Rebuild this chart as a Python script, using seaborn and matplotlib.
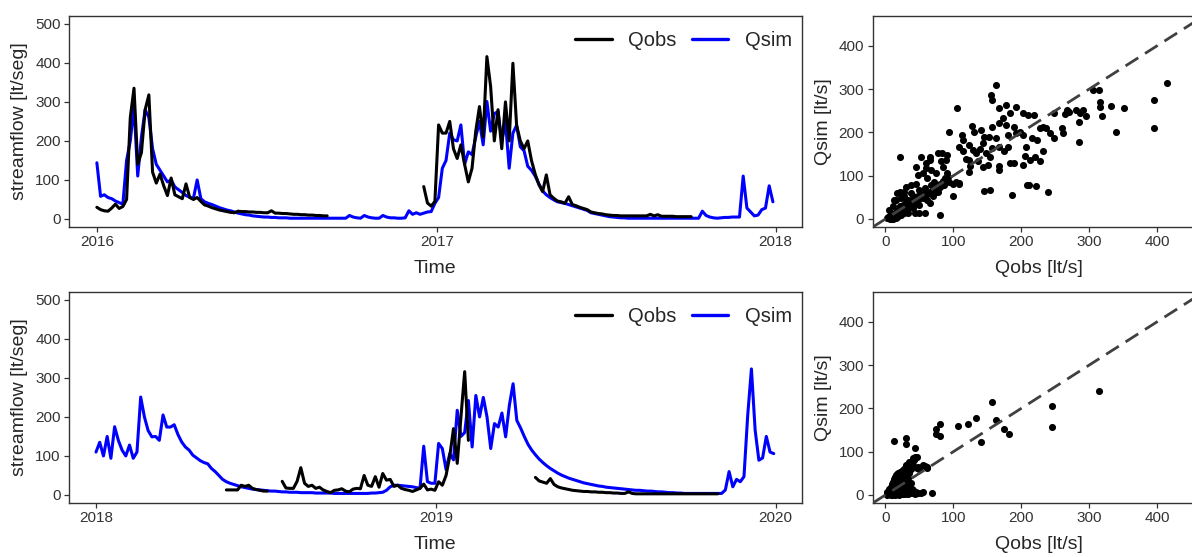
import numpy as np
import pandas as pd
import matplotlib
matplotlib.use("Agg")
import matplotlib.pyplot as plt
import matplotlib.dates as mdates
from matplotlib.lines import Line2D
import seaborn as sns

NaN = np.nan

# Streamflow sampled every 4 days [lt/seg]
qobs_2016_2017 = (
    [30, 24, 21, 20, 28, 38, 27, 32, 50]
    + [260, 335, 140, 170, 280, 318, 120, 92, 115, 85]
    + [60, 105, 62, 57, 52, 90, 55, 50, 55, 45]
    + [36, 33, 29, 26, 23, 21, 19, 17, 16]
    + [20, 19, 19, 18, 18, 17, 17, 16, 16, 21, 15, 15, 14, 14, 13, 12, 12, 11, 11, 10, 10, 9, 9, 8, 8]
    + [NaN] * 25
    + [83, 41, 33, 45]
    + [241, 220, 220, 250, 180, 155, 190, 140, 95, 130, 225, 288, 210, 416, 340, 200, 280, 180, 300, 200,
       399, 240, 200, 180, 200, 150, 115, 88, 70, 113, 62, 53, 46, 44, 40, 57, 37, 34, 30, 27, 24]
    + [18, 16, 14, 13, 11, 10, 9, 9, 8, 8, 8, 8, 8, 8, 8, 8, 12, 8, 11, 7, 7, 7, 7, 6, 6, 6, 6, 6]
    + [NaN] * 22
)
qsim_2016_2017 = (
    [144, 58, 62, 55, 52, 46, 42, 38, 150]
    + [200, 290, 110, 210, 280, 260, 180, 140, 125, 110]
    + [95, 100, 82, 75, 68, 60, 56, 53, 100, 52]
    + [44, 40, 37, 33, 29, 26, 23, 21, 18]
    + [15, 13, 11, 10, 8, 7, 6, 5, 5, 4, 4, 3, 3, 3, 2, 2, 2, 2, 2, 2, 2, 2, 2, 2, 2]
    + [2, 2, 2, 2, 2, 9, 5, 3, 2, 9, 5, 3, 2, 2, 9, 5, 3, 3, 2, 2, 3, 21, 12, 16, 12, 15, 18, 19, 40]
    + [55, 130, 150, 220, 203, 200, 241, 140, 172, 165, 210, 250, 190, 301, 225, 270, 275, 200, 250, 130,
       220, 240, 185, 175, 135, 125, 110, 90, 72, 62, 55, 49, 44, 42, 40, 37, 34, 31, 28, 25, 22]
    + [16, 14, 12, 10, 8, 6, 5, 4, 3, 3]
    + [2] * 20
    + [20, 9, 5, 3, 2, 3, 4, 4, 5, 5, 5, 110, 28, 18, 8, 10, 24, 28, 85, 44]
)
qobs_2018_2019 = (
    [NaN] * 35
    + [13, 13, 13, 13, 25, 22, 25, 17, 14, 12, 10, 10]
    + [NaN] * 3
    + [35, 18, 17, 17, 35, 70, 30, 22, 25, 17, 20, 13, 9, 6, 12, 13, 16, 10, 8]
    + [15, 17, 16, 50, 25, 22, 47, 20, 55, 38, 40, 22, 25, 17, 14, 12, 9, 13, 17, 28, 13, 15, 12, 34]
    + [25, 50, 100, 170, 81, 200, 316, 140]
    + [NaN] * 17
    + [45, 36, 33, 30, 42, 27, 21, 18, 16, 14, 12, 11, 10, 9, 9, 8, 8, 7, 7, 6, 6, 5, 5, 4, 4, 8, 4]
    + [3] * 23
    + [NaN] * 15
)
qsim_2018_2019 = (
    [110, 135, 100, 150, 94, 175, 140, 115, 100, 128, 94, 110]
    + [251, 200, 165, 149, 150, 140, 205, 174, 174, 180, 155]
    + [136, 123, 115, 102, 95, 88, 83, 80, 68, 60, 50, 40]
    + [34, 30, 27, 24, 21, 19, 17, 15, 14, 13, 12, 11, 10, 10, 9, 8]
    + [8, 7, 7, 7, 6, 6, 6, 6, 5, 5, 5, 5, 5, 4, 4, 4, 4, 4]
    + [4, 4, 4, 4, 4, 5, 5, 6, 7, 12, 21, 25, 25, 24, 23, 22, 21, 19, 17, 125, 34, 30, 30, 132]
    + [119, 65, 106, 90, 217, 150, 160, 242, 123, 255, 200, 250, 200, 119, 183, 174, 210, 149, 230, 285, 191]
    + [172, 150, 130, 115, 103, 92, 83, 75, 68, 62, 56, 51, 47, 43, 40, 37, 34, 31, 29, 27,
       25, 23, 22, 20, 19, 18, 17, 16, 15, 14, 13, 12, 12, 11, 10, 10, 9, 8, 8, 7, 6, 6, 5, 5, 4]
    + [4] * 10
    + [13, 60, 21, 40, 34, 47, 204, 323, 166, 89, 95, 150, 110, 106]
)

# Observed vs simulated pairs (Qobs, Qsim) [lt/s]
pairs_2016_2017 = [
    (22, 144), (105, 256), (93, 202), (163, 310), (156, 287), (157, 275), (177, 264), (193, 258),
    (168, 256), (203, 244), (219, 240), (210, 240), (183, 244), (173, 233), (178, 217), (168, 221),
    (157, 213), (141, 206), (145, 190), (131, 202), (127, 215), (113, 194), (115, 183), (108, 167),
    (115, 158), (123, 171), (129, 160), (134, 152), (136, 133), (123, 136), (118, 138), (125, 123),
    (123, 109), (144, 121), (151, 125), (154, 144), (148, 153), (139, 161), (144, 175), (153, 189),
    (163, 187), (167, 167), (157, 163), (175, 156), (181, 167), (181, 194), (189, 213), (193, 198),
    (198, 202), (203, 194), (207, 167), (206, 146), (203, 125), (184, 130), (189, 129), (167, 123),
    (168, 113), (154, 67), (145, 65), (186, 55), (209, 79), (212, 79), (222, 77), (239, 62),
    (213, 136), (227, 133), (232, 158), (221, 144), (216, 187), (223, 183), (227, 210), (232, 213),
    (237, 210), (242, 198), (248, 187), (249, 244), (260, 210), (261, 198), (264, 243), (271, 248),
    (267, 252), (281, 252), (285, 223), (285, 177), (291, 252), (295, 238), (287, 244), (306, 297),
    (315, 297), (316, 271), (316, 258), (319, 237), (333, 261), (351, 256), (340, 202), (396, 275),
    (396, 210), (415, 314),
    (52, 144), (60, 129), (65, 136), (66, 144), (77, 153), (84, 152), (90, 148), (89, 136),
    (82, 133), (85, 121), (91, 106), (90, 90), (75, 106), (67, 113), (60, 117), (55, 106),
    (45, 121), (48, 102), (62, 94), (71, 86), (80, 75), (99, 52), (80, 9), (65, 36),
    (58, 71), (50, 67), (45, 82), (38, 79), (31, 75), (28, 52), (21, 63), (17, 59),
    (13, 44), (11, 29), (8, 13), (6, 5), (18, 13), (26, 32), (33, 44), (40, 52),
    (33, 13), (43, 13), (50, 13), (58, 13), (35, 29), (55, 48), (72, 59), (67, 79),
    (77, 63), (87, 79), (94, 86), (99, 82), (104, 86), (109, 84), (108, 81), (6, 21),
    (3, 2), (11, 5), (16, 2), (21, 29), (16, 44), (23, 48), (31, 40), (38, 59),
    (48, 52), (60, 59), (62, 44), (70, 52), (26, 17), (40, 25), (50, 32), (28, 63), (45, 36),
    (5, 3), (8, 6), (10, 8), (12, 12), (14, 10), (15, 16), (18, 20), (20, 18), (22, 25), (25, 22),
    (28, 30), (30, 27), (32, 35), (35, 33), (38, 40), (40, 38), (4, 4), (6, 2), (7, 7), (9, 5),
    (10, 2), (12, 4), (14, 6), (16, 9), (19, 12), (21, 15), (24, 18), (26, 22), (29, 24), (7, 1),
    (9, 1), (11, 1), (13, 3), (15, 4), (17, 5), (19, 7), (23, 10), (27, 14), (31, 19), (34, 25),
    (37, 30), (42, 35), (45, 40), (48, 44), (50, 48), (53, 50), (56, 55), (58, 60), (62, 58),
    (65, 62), (68, 65), (70, 70), (73, 68), (75, 76), (78, 72), (80, 80), (85, 88), (88, 95), (92, 98),
]
pairs_2018_2019 = [
    (13, 125), (30, 131), (31, 117), (44, 108), (75, 152), (74, 142), (81, 163), (81, 137),
    (107, 159), (121, 163), (133, 178), (157, 215), (163, 173), (141, 123), (174, 152), (182, 141),
    (246, 205), (246, 157), (315, 241), (55, 69), (62, 63), (48, 65), (69, 4), (55, 6),
    (45, 8), (40, 11), (44, 88), (40, 85), (35, 77), (31, 69), (26, 58), (21, 50),
    (16, 38), (11, 27), (6, 15), (3, 6),
    (2, 2), (3, 1), (4, 5), (5, 3), (5, 8), (6, 2), (6, 10), (7, 4), (7, 14), (8, 1), (8, 6), (8, 18),
    (9, 3), (9, 10), (9, 22), (10, 1), (10, 5), (10, 14), (10, 26), (11, 8), (11, 30), (12, 2),
    (12, 12), (12, 34), (13, 4), (13, 18), (13, 38), (14, 1), (14, 8), (14, 24), (14, 42), (15, 3),
    (15, 12), (15, 30), (15, 46), (16, 6), (16, 20), (16, 36), (17, 2), (17, 14), (17, 48), (18, 4),
    (18, 26), (18, 42), (19, 8), (19, 32), (19, 50), (20, 1), (20, 16), (20, 38), (21, 5), (21, 22),
    (21, 44), (22, 2), (22, 10), (22, 30), (22, 52), (23, 6), (23, 18), (23, 36), (24, 3), (24, 12),
    (24, 26), (24, 46), (25, 8), (25, 55), (26, 2), (26, 18), (26, 34), (27, 5), (27, 28), (27, 60),
    (28, 12), (28, 40), (29, 3), (29, 22), (29, 62), (30, 8), (30, 48), (31, 4), (31, 30), (32, 14),
    (32, 66), (33, 6), (33, 40), (34, 2), (34, 20), (34, 72), (35, 10), (35, 50), (36, 4), (37, 28),
    (37, 76), (38, 6), (38, 60), (39, 15), (40, 4), (40, 80), (41, 70), (42, 8), (42, 82), (43, 3),
    (44, 86), (45, 5), (46, 88), (47, 62), (48, 4), (50, 60), (52, 5), (58, 66), (62, 64),
]

year_ticks = [0, 100, 200, 300, 400, 500]
scatter_ticks = [0, 100, 200, 300, 400]

OBS_COLOR = "black"
SIM_COLOR = "#0000ff"
FRAME = "#333333"
TICK_TXT = "#333333"

sns.set_theme(style="white")
plt.rcParams["font.family"] = ["Liberation Sans", "DejaVu Sans"]

W, H = 1192, 557
fig = plt.figure(figsize=(W / 100, H / 100), dpi=100)


def box(left, top, width, height):
    return fig.add_axes([left / W, (H - top - height) / H, width / W, height / H])


ax_ts1 = box(69, 16, 732.7, 211)
ax_ts2 = box(69, 292, 732.7, 211)
ax_sc1 = box(872.5, 16, 332, 211)
ax_sc2 = box(872.5, 292, 332, 211)


def style_axes(ax):
    for sp in ax.spines.values():
        sp.set_color(FRAME)
        sp.set_linewidth(1.0)
        sp.set_visible(True)
    ax.tick_params(axis="both", which="major", direction="out", length=3.5, width=0.9,
                   color=FRAME, labelcolor=TICK_TXT, labelsize=11, pad=2.5,
                   bottom=True, left=True)
    ax.grid(False)


def draw_series(ax, start, qobs, qsim, xmin, xmax):
    dates = pd.date_range(start, periods=len(qobs), freq="4D")
    frames = []
    for name, vals in (("Qsim", qsim), ("Qobs", qobs)):
        v = pd.Series(vals, dtype=float)
        run = v.isna().cumsum().astype(str)
        frames.append(pd.DataFrame({"date": dates, "flow": v.values,
                                    "series": name, "run": name + run.values}).dropna())
    df = pd.concat(frames, ignore_index=True)
    sns.lineplot(data=df, x="date", y="flow", hue="series", units="run", estimator=None,
                 hue_order=["Qsim", "Qobs"], palette={"Qobs": OBS_COLOR, "Qsim": SIM_COLOR},
                 linewidth=2.2, legend=False, ax=ax)
    ax.set_xlim(pd.Timestamp(xmin), pd.Timestamp(xmax))
    ax.set_ylim(-20.5, 520)
    ax.set_yticks(year_ticks)
    ax.xaxis.set_major_locator(mdates.YearLocator())
    ax.xaxis.set_major_formatter(mdates.DateFormatter("%Y"))
    ax.set_xlabel("Time", fontsize=14, labelpad=8)
    ax.set_ylabel("streamflow [lt/seg]", fontsize=14, labelpad=5)
    style_axes(ax)
    handles = [Line2D([], [], color=OBS_COLOR, lw=2.4), Line2D([], [], color=SIM_COLOR, lw=2.4)]
    ax.legend(handles=handles, labels=["Qobs", "Qsim"], loc="upper right", ncol=2,
              frameon=False, fontsize=14.5, handlelength=1.8, handletextpad=0.8,
              columnspacing=0.8, borderpad=0.2, borderaxespad=0.3,
              bbox_to_anchor=(1.0, 0.975))


def draw_scatter(ax, pairs):
    obs = [p[0] for p in pairs]
    sim = [p[1] for p in pairs]
    sns.scatterplot(x=obs, y=sim, color="black", s=26, linewidth=0, ax=ax, zorder=2)
    ax.axline((0, 0), slope=1, color="#404040", lw=2.0, dashes=(5.4, 2.9), zorder=3)
    ax.set_xlim(-19, 470)
    ax.set_ylim(-18.5, 469)
    ax.set_xticks(scatter_ticks)
    ax.set_yticks(scatter_ticks)
    ax.set_xlabel("Qobs [lt/s]", fontsize=14, labelpad=8)
    ax.set_ylabel("Qsim [lt/s]", fontsize=14, labelpad=5)
    style_axes(ax)


draw_series(ax_ts1, "2016-01-01", qobs_2016_2017, qsim_2016_2017, "2015-12-02", "2018-01-29")
draw_series(ax_ts2, "2018-01-01", qobs_2018_2019, qsim_2018_2019, "2017-12-03", "2020-01-29")
draw_scatter(ax_sc1, pairs_2016_2017)
draw_scatter(ax_sc2, pairs_2018_2019)

fig.savefig("out.png", dpi=100, facecolor="white")
